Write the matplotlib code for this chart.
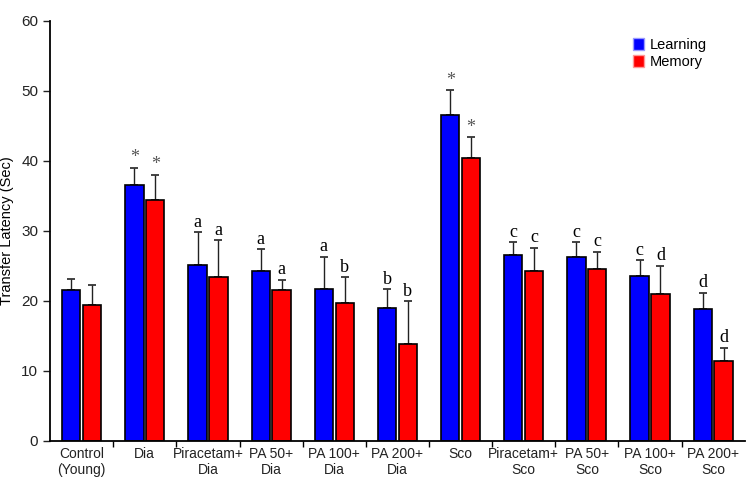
import matplotlib.pyplot as plt
import numpy as np
from matplotlib.patches import Patch

groups = ["Control\n(Young)", "Dia", "Piracetam+\nDia", "PA 50+\nDia", "PA 100+\nDia",
          "PA 200+\nDia", "Sco", "Piracetam+\nSco", "PA 50+\nSco", "PA 100+\nSco", "PA 200+\nSco"]
learning = [21.6, 36.6, 25.1, 24.3, 21.7, 19.0, 46.5, 26.6, 26.3, 23.6, 18.9]
learning_err = [1.5, 2.4, 4.7, 3.1, 4.6, 2.7, 3.6, 1.8, 2.1, 2.2, 2.3]
memory = [19.4, 34.4, 23.4, 21.6, 19.7, 13.9, 40.4, 24.3, 24.6, 21.0, 11.4]
memory_err = [2.9, 3.6, 5.3, 1.4, 3.7, 6.1, 3.0, 3.3, 2.4, 4.0, 1.9]
learning_marks = ["", "*", "a", "a", "a", "b", "*", "c", "c", "c", "d"]
memory_marks = ["", "*", "a", "a", "b", "b", "*", "c", "c", "d", "d"]

plt.rcParams['font.family'] = ['Liberation Sans', 'DejaVu Sans']
fig = plt.figure(figsize=(7.47, 4.83), dpi=100)
ax = fig.add_axes([0.067, 0.087, 0.93, 0.87])

x = np.arange(len(groups)) + 0.5
off = 0.165
w = 0.29
ax.bar(x - off, learning, w, color='#0000ff', edgecolor='black', linewidth=1.2, label='Learning', zorder=2)
ax.bar(x + off, memory, w, color='#ff0000', edgecolor='black', linewidth=1.2, label='Memory', zorder=2)
ax.errorbar(x - off, learning, yerr=[np.zeros(len(groups)), learning_err], fmt='none',
            ecolor='#222222', elinewidth=1, capsize=3, capthick=1.2, zorder=1)
ax.errorbar(x + off, memory, yerr=[np.zeros(len(groups)), memory_err], fmt='none',
            ecolor='#222222', elinewidth=1, capsize=3, capthick=1.2, zorder=1)

for i in range(len(groups)):
    for xs, v, e, m in [(x[i] - off, learning[i], learning_err[i], learning_marks[i]),
                        (x[i] + off, memory[i], memory_err[i], memory_marks[i])]:
        if not m:
            continue
        col = '#555555' if m == '*' else 'black'
        ax.text(xs, v + e + 0.2, m, ha='center', va='bottom', family='Liberation Serif',
                fontsize=13, color=col)

ax.set_xlim(0, len(groups))
ax.set_ylim(0, 60)
ax.set_yticks(range(0, 61, 10))
ax.set_xticks(np.arange(1, len(groups)))
ax.set_xticklabels([])
ax.set_xticks(x, minor=True)
ax.set_xticklabels(groups, minor=True, fontsize=10, color='#222222')
ax.tick_params(axis='x', which='minor', length=0, pad=4)
ax.tick_params(axis='x', which='major', length=4, width=1, direction='out')
ax.tick_params(axis='y', length=5, width=1, labelsize=11, colors='#222222')
for s in ['top', 'right']:
    ax.spines[s].set_visible(False)
for s in ['left', 'bottom']:
    ax.spines[s].set_linewidth(1.3)
ax.set_ylabel('Transfer Latency (Sec)', fontsize=10.5)
ax.yaxis.set_label_coords(-0.052, 0.5)

handles = [Patch(facecolor='#0000ff', edgecolor='#9999ff', label='Learning'),
           Patch(facecolor='#ff0000', edgecolor='#ff9999', label='Memory')]
ax.legend(handles=handles, loc='upper right', bbox_to_anchor=(0.965, 0.99), frameon=False,
          handlelength=0.8, handleheight=0.8, handletextpad=0.4, labelspacing=0.2, fontsize=10.5)

fig.savefig('out.png', dpi=100)
